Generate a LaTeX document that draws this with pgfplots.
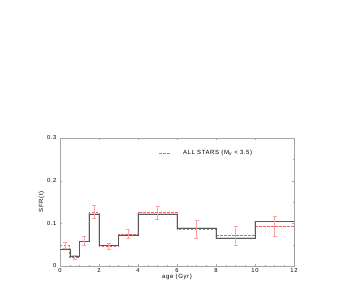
\documentclass[border=0pt]{standalone}
\usepackage{pgfplots}
\pgfplotsset{compat=1.18}
\usepackage{fontspec}
\setmainfont{Liberation Sans}
\newfontfamily\legfont[LetterSpace=10]{Liberation Sans}
\definecolor{errred}{RGB}{250,165,165}
\definecolor{dashred}{RGB}{240,95,95}
\begin{document}
\begin{tikzpicture}[x=1pt,y=1pt]
\path[use as bounding box] (0,0) rectangle (354,300);
\begin{axis}[
  at={(60pt,34pt)}, anchor=south west,
  scale only axis, width=234pt, height=128pt,
  xmin=0, xmax=12, ymin=0, ymax=0.3,
  xtick={0,2,...,12}, ytick={0,0.1,0.2,0.3},
  yticklabels={0,0.1,0.2,0.3},
  minor x tick num=3, minor y tick num=1,
  tick align=inside,
  major tick length=2pt, minor tick length=1.2pt,
  axis line style={gray!70, line width=0.5pt},
  every tick/.style={gray!70, line width=0.3pt},
  tick label style={font=\legfont\fontsize{5.8}{6.5}\selectfont},
  /pgf/number format/assume math mode=true,
  xlabel={age (Gyr)}, ylabel={SFR(t)},
  label style={font=\legfont\fontsize{6}{7}\selectfont},
  xlabel style={yshift=5pt},
  ylabel style={yshift=-4pt},
  xticklabel style={yshift=1pt},
]
% grey shadow band under black
\addplot[const plot, gray!30, line width=1.6pt, forget plot] coordinates {
(0,0.040) (0.5,0.023) (1,0.057) (1.5,0.122) (2,0.048) (3,0.073) (4,0.122) (6,0.089) (8,0.065) (10,0.104) (12,0.104)};
% red dashed
\addplot[const plot, dashred, line width=0.6pt, dash pattern=on 2.5pt off 1.5pt, forget plot] coordinates {
(0,0.048) (0.5,0.021) (1,0.058) (1.5,0.126) (2,0.046) (3,0.075) (4,0.126) (6,0.087) (8,0.072) (10,0.093) (12,0.093)};
% black histogram
\addplot[const plot, black!65, line width=0.4pt, forget plot] coordinates {
(0,0.040) (0.5,0.023) (1,0.057) (1.5,0.122) (2,0.048) (3,0.073) (4,0.122) (6,0.089) (8,0.065) (10,0.104) (12,0.104)};
\addplot[black!65, line width=0.4pt, forget plot] coordinates {(12,0) (12,0.104)};
% error bars
\addplot[draw=none, no markers, forget plot,
  error bars/.cd, y dir=both, y explicit,
  error bar style={errred, line width=0.5pt},
  error mark options={rotate=90, mark size=2pt, errred, line width=0.5pt}]
  coordinates {
  (0.25,0.049) +- (0,0.007)
  (0.75,0.021) +- (0,0.005)
  (1.25,0.059) +- (0,0.010)
  (1.75,0.127) +- (0,0.016)
  (2.5,0.046) +- (0,0.007)
  (3.5,0.075) +- (0,0.011)
  (5,0.125) +- (0,0.015)
  (7,0.087) +- (0,0.021)
  (9,0.071) +- (0,0.022)
  (11,0.093) +- (0,0.023)
  };
% legend key
\draw[dashred, line width=0.6pt, dash pattern=on 2.5pt off 1.5pt]
  (axis description cs:0.425,0.88) -- (axis description cs:0.475,0.88);
\node[anchor=west, inner sep=0pt, font=\legfont\fontsize{6}{7}\selectfont]
  at (axis description cs:0.525,0.88) {ALL STARS (M$_\mathrm{v}$ < 3.5)};
\end{axis}
\end{tikzpicture}
\end{document}
